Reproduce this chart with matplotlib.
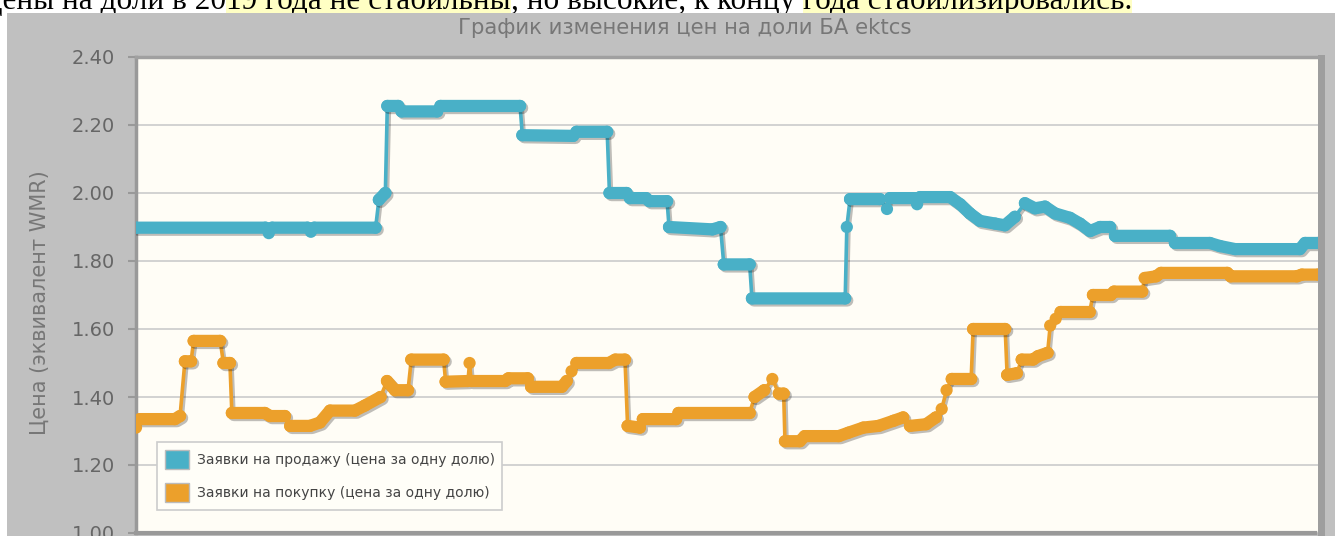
import matplotlib
matplotlib.use("Agg")
import matplotlib.pyplot as plt
import matplotlib.patheffects as pe
from matplotlib.patches import Rectangle, Patch
from matplotlib.text import Annotation
import numpy as np

# ---------------- data ----------------
title = "График изменения цен на доли БА ektcs"
ylabel = "Цена (эквивалент WMR)"
series_names = ["Заявки на продажу (цена за одну долю)",
                "Заявки на покупку (цена за одну долю)"]
yticks = [1.00, 1.20, 1.40, 1.60, 1.80, 2.00, 2.20, 2.40]
doc_parts = ["Цены на доли в 20", "19 года не стабильны", ", но высокие, к концу ",
             "года стабилизировались."]
doc_highlight = [False, True, False, True]

sell_day = [0, 40, 41, 42, 53, 54, 55, 74, 75, 77, 77.6, 81, 82, 93, 94, 118.6, 119.3,
            135, 136, 145.5, 146.2, 151.5, 152.5, 157.5, 158.5, 164, 164.6, 178, 180.5,
            181.5, 189.5, 190.2, 219, 219.5, 220.5, 229.7, 231.9, 232.8, 240.6, 241.2,
            242.1, 251.4, 254.5, 257.5, 260.6, 265.3, 268.3, 271.4, 274.5, 277.6, 280.7,
            283.8, 288.4, 291.5, 294.6, 297.7, 300.8, 302.3, 319.3, 320.8, 331.6, 334.7,
            339.4, 359.4, 361, 365]
sell_price = [1.898, 1.898, 1.882, 1.898, 1.898, 1.886, 1.898, 1.898, 1.98, 2.00, 2.256,
              2.256, 2.24, 2.24, 2.256, 2.256, 2.17, 2.168, 2.18, 2.18, 2.00, 2.00, 1.985,
              1.985, 1.976, 1.976, 1.90, 1.893, 1.90, 1.79, 1.79, 1.69, 1.69, 1.90, 1.982,
              1.982, 1.953, 1.985, 1.985, 1.967, 1.988, 1.988, 1.967, 1.94, 1.918, 1.91,
              1.905, 1.93, 1.97, 1.955, 1.96, 1.94, 1.927, 1.91, 1.888, 1.90, 1.90, 1.874,
              1.874, 1.853, 1.853, 1.844, 1.835, 1.835, 1.853, 1.853]

buy_day = [0, 1.2, 12, 13.6, 15.1, 17, 17.8, 26, 27, 29, 29.6, 39.8, 41.4, 46, 47.6, 53.7,
           56.8, 59.9, 67.6, 70.7, 75.5, 77.5, 80, 84, 85, 95, 95.6, 102.5, 103, 103.5,
           114, 115, 121, 122, 131.5, 133, 134.5, 136, 146, 148, 151, 151.8, 155.6, 156.5,
           166.8, 167.5, 189.5, 191, 194, 196.5, 198.5, 200, 200.4, 205, 206.5, 217, 220,
           224.6, 229.3, 233.9, 236.9, 239, 244, 247, 248.8, 250.3, 251.9, 257.9, 258.5,
           268.4, 269, 272, 273.5, 277, 278.5, 281.5, 282.3, 284, 285.5, 294.5, 295.5,
           301, 302, 310.7, 311.5, 315, 316.5, 337, 338, 358.5, 360, 365]
buy_price = [1.31, 1.335, 1.335, 1.344, 1.505, 1.505, 1.565, 1.565, 1.50, 1.50, 1.353,
             1.353, 1.344, 1.344, 1.315, 1.315, 1.325, 1.36, 1.36, 1.375, 1.40, 1.447,
             1.42, 1.42, 1.51, 1.51, 1.445, 1.447, 1.50, 1.447, 1.447, 1.455, 1.455, 1.43,
             1.43, 1.447, 1.476, 1.50, 1.50, 1.51, 1.51, 1.315, 1.31, 1.335, 1.335, 1.353,
             1.353, 1.40, 1.42, 1.453, 1.41, 1.41, 1.27, 1.27, 1.285, 1.285, 1.295, 1.31,
             1.315, 1.33, 1.34, 1.315, 1.32, 1.34, 1.365, 1.42, 1.453, 1.453, 1.60, 1.60,
             1.465, 1.47, 1.51, 1.51, 1.52, 1.53, 1.61, 1.63, 1.65, 1.65, 1.70, 1.70, 1.71,
             1.71, 1.75, 1.755, 1.765, 1.765, 1.755, 1.755, 1.76, 1.76]

# ---------------- style ----------------
W, H = 1335, 536
BLUE = "#49B0C7"
ORANGE = "#ECA02B"
PANEL = "#C0C0C0"
PLOTBG = "#FFFDF6"

fig = plt.figure(figsize=(W / 100, H / 100), dpi=100)
fig.patch.set_facecolor("white")


def fx(px):
    return px / W


def fy(py):
    return 1 - py / H


# grey panel
fig.add_artist(Rectangle((fx(7), 0), 1 - fx(7), fy(13), transform=fig.transFigure,
                         facecolor=PANEL, edgecolor="none", zorder=2))

# document text line (cut at top)
DOC_FS = 22.5
prev = fig.text(fx(-20), fy(16), doc_parts[0], ha="left", va="bottom",
                family="Liberation Serif", fontsize=DOC_FS, color="black", zorder=1)
for part, hl in zip(doc_parts[1:], doc_highlight[1:]):
    kw = {}
    if hl:
        kw["bbox"] = dict(boxstyle="square,pad=0", facecolor="#FFFFC4", edgecolor="none")
    ann = Annotation(part, xy=(1, 0), xycoords=prev, ha="left", va="bottom",
                     family="Liberation Serif", fontsize=DOC_FS, color="black", zorder=1, **kw)
    fig.add_artist(ann)
    prev = ann

# axes
x0, x1, ytop, ybot = 136, 1318, 57, 533
ax = fig.add_axes([fx(x0), fy(ybot), fx(x1) - fx(x0), fy(ytop) - fy(ybot)])
ax.set_zorder(3)
ax.set_facecolor(PLOTBG)
ax.set_xlim(0, 365)
ax.set_ylim(1.0, 2.4)
ax.set_xticks([])
ax.set_yticks(yticks)
ax.set_yticklabels([f"{v:.2f}" for v in yticks])
ax.tick_params(axis="y", direction="out", length=6, width=1.5, color="#999999",
               labelcolor="#666666", labelsize=14, pad=9)
for lab in ax.get_yticklabels():
    lab.set_family("DejaVu Sans")
ax.grid(axis="y", color="#D2D2D2", linewidth=1.4)
ax.set_axisbelow(True)
ax.spines["left"].set_color("#999999")
ax.spines["left"].set_linewidth(2.5)
ax.spines["top"].set_color("#A0A0A0")
ax.spines["top"].set_linewidth(2.5)
ax.spines["right"].set_visible(False)
ax.spines["bottom"].set_color("#999999")
ax.spines["bottom"].set_linewidth(3)
ax.spines["bottom"].set_linestyle((0, (1, 1)))

# right shadow of plot frame
fig.add_artist(Rectangle((fx(1318), 0), fx(1325) - fx(1318), fy(55), transform=fig.transFigure,
                         facecolor="#9E9E9E", edgecolor="none", zorder=2.5))

shadow = [pe.SimpleLineShadow(offset=(1.5, -1.5), shadow_color="black", alpha=0.25),
          pe.Normal()]
THICK = 8.8


def draw_series(days, prices, color):
    xs = np.asarray(days, float)
    ys = np.asarray(prices, float)
    pts = ax.transData.transform(np.column_stack([xs, ys]))
    d = np.diff(pts, axis=0)
    steep = np.abs(d[:, 1]) > 1.2 * np.abs(d[:, 0])
    # thin connecting line
    ax.plot(xs, ys, color=color, lw=2.6, zorder=3, path_effects=shadow,
            solid_capstyle="round")
    # thick runs (dense markers in the original)
    tx, ty = [xs[0]], [ys[0]]
    for i in range(len(xs) - 1):
        if steep[i]:
            tx.append(np.nan)
            ty.append(np.nan)
        tx.append(xs[i + 1])
        ty.append(ys[i + 1])
    ax.plot(tx, ty, color=color, lw=THICK, zorder=4, solid_capstyle="round",
            solid_joinstyle="round", path_effects=shadow)
    ax.plot(xs, ys, "o", color=color, ms=THICK, mew=0, zorder=4, path_effects=shadow)


draw_series(sell_day, sell_price, BLUE)
draw_series(buy_day, buy_price, ORANGE)

# legend
handles = [Patch(facecolor=BLUE, edgecolor="#BBBBBB", linewidth=1),
           Patch(facecolor=ORANGE, edgecolor="#BBBBBB", linewidth=1)]
leg = ax.legend(handles, series_names, loc="lower left",
                bbox_to_anchor=(fx(157), fy(510)), bbox_transform=fig.transFigure,
                fontsize=10, frameon=True, fancybox=False, framealpha=1,
                facecolor="#FFFEF8", edgecolor="#CCCCCC", handlelength=1.75,
                handleheight=1.75, handletextpad=0.55, labelspacing=1.0,
                borderpad=0.55, borderaxespad=0)
leg.get_frame().set_linewidth(1.2)
for t in leg.get_texts():
    t.set_color("#444444")

# title and y label
fig.text(fx(685), fy(28), title, ha="center", va="center", fontsize=15.3,
         color="#777777", family="DejaVu Sans", zorder=4)
fig.text(fx(40), fy(303), ylabel, ha="center", va="center", rotation=90,
         fontsize=15, color="#777777", family="DejaVu Sans", zorder=4)

fig.savefig("out.png", dpi=100)
